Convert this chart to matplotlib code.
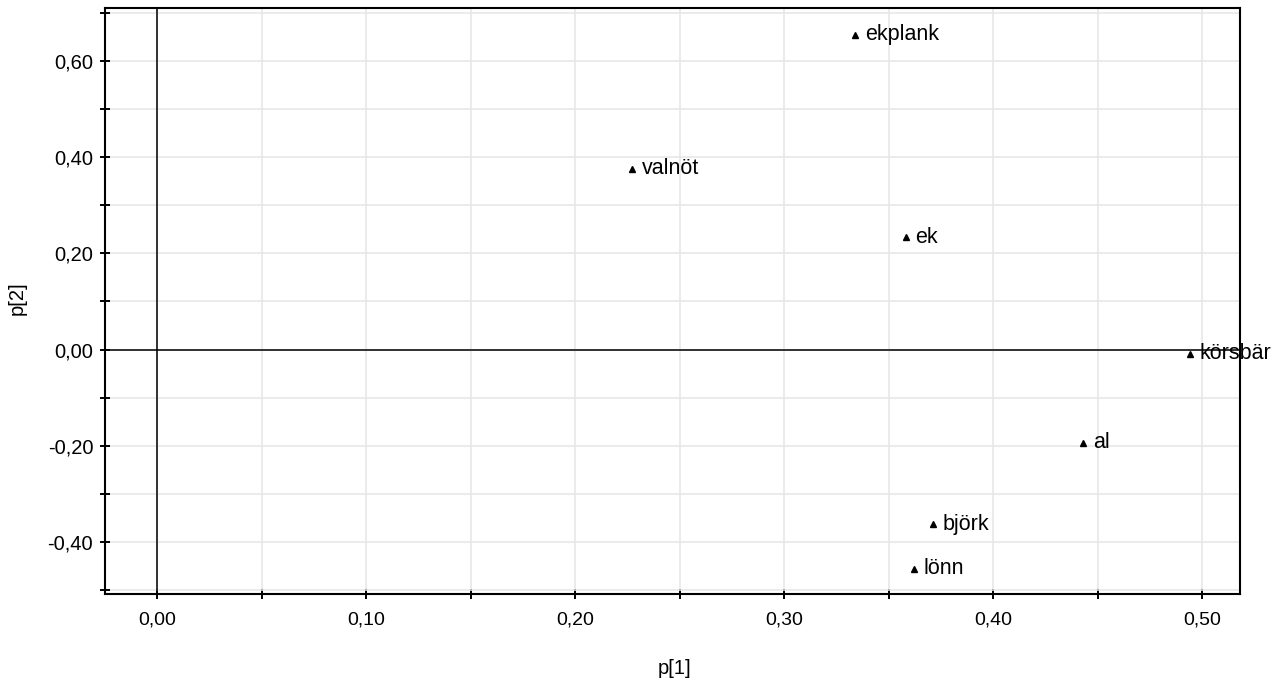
import matplotlib
matplotlib.use("Agg")
import matplotlib.pyplot as plt
from matplotlib.ticker import MultipleLocator, FuncFormatter

# ----- DATA -----
names = ["ekplank", "valnöt", "ek", "körsbär", "al", "björk", "lönn"]
p1 = [0.334, 0.227, 0.358, 0.494, 0.443, 0.371, 0.362]
p2 = [0.654, 0.376, 0.234, -0.009, -0.194, -0.363, -0.456]

plt.rcParams["font.family"] = ["Liberation Sans", "DejaVu Sans"]

fig = plt.figure(figsize=(12.87, 6.82), dpi=100)
ax = fig.add_axes([0.0816, 0.1283, 0.9635 - 0.0816, 0.9883 - 0.1283])

ax.set_xlim(-0.025, 0.518)
ax.set_ylim(-0.509, 0.71)

# grid at major + minor positions
ax.xaxis.set_major_locator(MultipleLocator(0.1))
ax.xaxis.set_minor_locator(MultipleLocator(0.05))
ax.yaxis.set_major_locator(MultipleLocator(0.2))
ax.yaxis.set_minor_locator(MultipleLocator(0.1))
ax.grid(True, which="both", color="#e6e6e6", linewidth=1.1, zorder=0)
ax.set_axisbelow(True)

fmt = FuncFormatter(lambda v, pos: f"{v:.2f}".replace(".", ","))
ax.xaxis.set_major_formatter(fmt)
ax.yaxis.set_major_formatter(fmt)

ax.tick_params(which="both", direction="inout", length=7, width=1.4, color="black")
ax.tick_params(axis="x", which="major", labelsize=14, pad=9)
ax.tick_params(axis="y", which="major", labelsize=14.5, pad=5)
ax.tick_params(top=False, right=False)

for s in ax.spines.values():
    s.set_linewidth(1.5)

# origin lines
ax.axhline(0, color="black", linewidth=1.1, zorder=1)
ax.axvline(0, color="black", linewidth=1.1, zorder=1)

ax.plot(p1, p2, linestyle="none", marker="^", markersize=5, color="black", zorder=3)
for name, x, y in zip(names, p1, p2):
    ax.annotate(name, (x, y), xytext=(7, 0), textcoords="offset points",
                va="center", ha="left", fontsize=15.5, annotation_clip=False)

ax.set_xlabel("p[1]", fontsize=14.5, va="center")
ax.set_ylabel("p[2]", fontsize=14.5, va="center")
ax.xaxis.set_label_coords(0.502, -0.127)
ax.yaxis.set_label_coords(-0.0775, 0.505)

plt.savefig("out.png", dpi=100)
